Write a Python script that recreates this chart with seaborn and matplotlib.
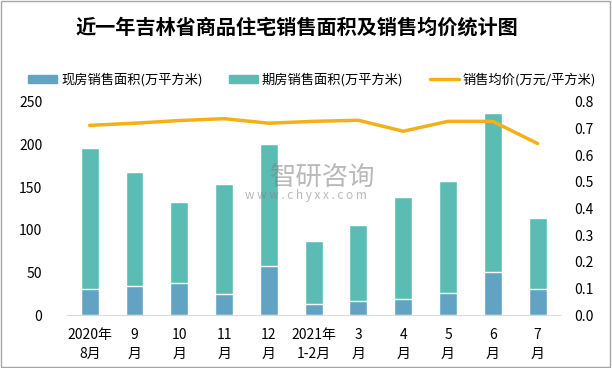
import numpy as np
import pandas as pd
import seaborn as sns
import matplotlib.pyplot as plt
from matplotlib.patches import Patch, Rectangle
from matplotlib.lines import Line2D

months = ['2020年\n8月', '9\n月', '10\n月', '11\n月', '12\n月', '2021年\n1-2月',
          '3\n月', '4\n月', '5\n月', '6\n月', '7\n月']
spot_area = [30.8, 34.3, 37.8, 25.4, 57.7, 13.3, 17.2, 19.5, 26.1, 50.7, 30.8]
future_area = [164.7, 133.1, 94.5, 128.3, 142.5, 73.7, 88.5, 119.0, 131.1, 186.1, 83.1]
avg_price = [0.711, 0.719, 0.729, 0.736, 0.719, 0.726, 0.730, 0.689, 0.726, 0.726, 0.643]

spot_color = '#62A3C3'
future_color = '#5BBCB4'
line_color = '#F5B017'

sns.set_style('white')
plt.rcParams['font.family'] = ['Noto Sans CJK SC', 'DejaVu Sans']
plt.rcParams['text.color'] = 'black'
plt.rcParams['xtick.color'] = 'black'
plt.rcParams['ytick.color'] = 'black'

data = pd.DataFrame({'month': months, 'spot': spot_area, 'future': future_area, 'price': avg_price})
data['total'] = data['spot'] + data['future']

fig = plt.figure(figsize=(6.12, 3.68), dpi=100)
ax = fig.add_axes([0.110, 0.143, 0.805, 0.581])

# stacked bars: total first, then spot on top of it
sns.barplot(x='month', y='total', data=data, color=future_color, width=0.4, ax=ax, saturation=1)
sns.barplot(x='month', y='spot', data=data, color=spot_color, width=0.4, ax=ax, saturation=1)

ax.set_ylim(0, 250)
ax.set_yticks(range(0, 251, 50))
ax.set_xlim(-0.5, len(months) - 0.5)
ax.set_xlabel('')
ax.set_ylabel('')
ax.tick_params(axis='y', length=0, pad=18, labelsize=10)
ax.tick_params(axis='x', length=0, pad=9, labelsize=10)
for lab in ax.get_xticklabels():
    lab.set_linespacing(1.45)
for s in ['top', 'left', 'right']:
    ax.spines[s].set_visible(False)
ax.spines['bottom'].set_color('#D9D9D9')

ax2 = ax.twinx()
sns.lineplot(x=np.arange(len(months)), y=data['price'], color=line_color, lw=2.5, ax=ax2)
ax2.set_ylim(0, 0.8)
ax2.set_yticks(np.arange(0, 0.81, 0.1))
ax2.set_yticklabels(['%.1f' % v for v in np.arange(0, 0.81, 0.1)])
ax2.set_ylabel('')
ax2.tick_params(axis='y', length=0, pad=10, labelsize=10)
for s in ['top', 'left', 'right', 'bottom']:
    ax2.spines[s].set_visible(False)

fig.text(0.485, 0.927, '近一年吉林省商品住宅销售面积及销售均价统计图', ha='center', va='center',
         fontsize=14.5, fontweight='bold')

handles = [Patch(color=spot_color), Patch(color=future_color), Line2D([], [], color=line_color, lw=2.5)]
labels = ['现房销售面积(万平方米)', '期房销售面积(万平方米)', '销售均价(万元/平方米)']
fig.legend(handles, labels, loc='center', bbox_to_anchor=(0.51, 0.783), ncol=3, frameon=False,
           fontsize=9.5, handlelength=2.2, handleheight=0.6, columnspacing=2.0, handletextpad=0.3)

# watermark
fig.text(0.527, 0.518, '智研咨询', ha='center', va='center', fontsize=19, color='#808080', alpha=0.55)
fig.text(0.500, 0.468, 'w w w . c h y x x . c o m', ha='center', va='center', fontsize=8.5,
         color='#808080', alpha=0.55)

fig.patches.append(Rectangle((0.002, 0.003), 0.995, 0.994, transform=fig.transFigure,
                             fill=False, edgecolor='#A6A6A6', lw=1))

fig.savefig('out.png', dpi=100)
